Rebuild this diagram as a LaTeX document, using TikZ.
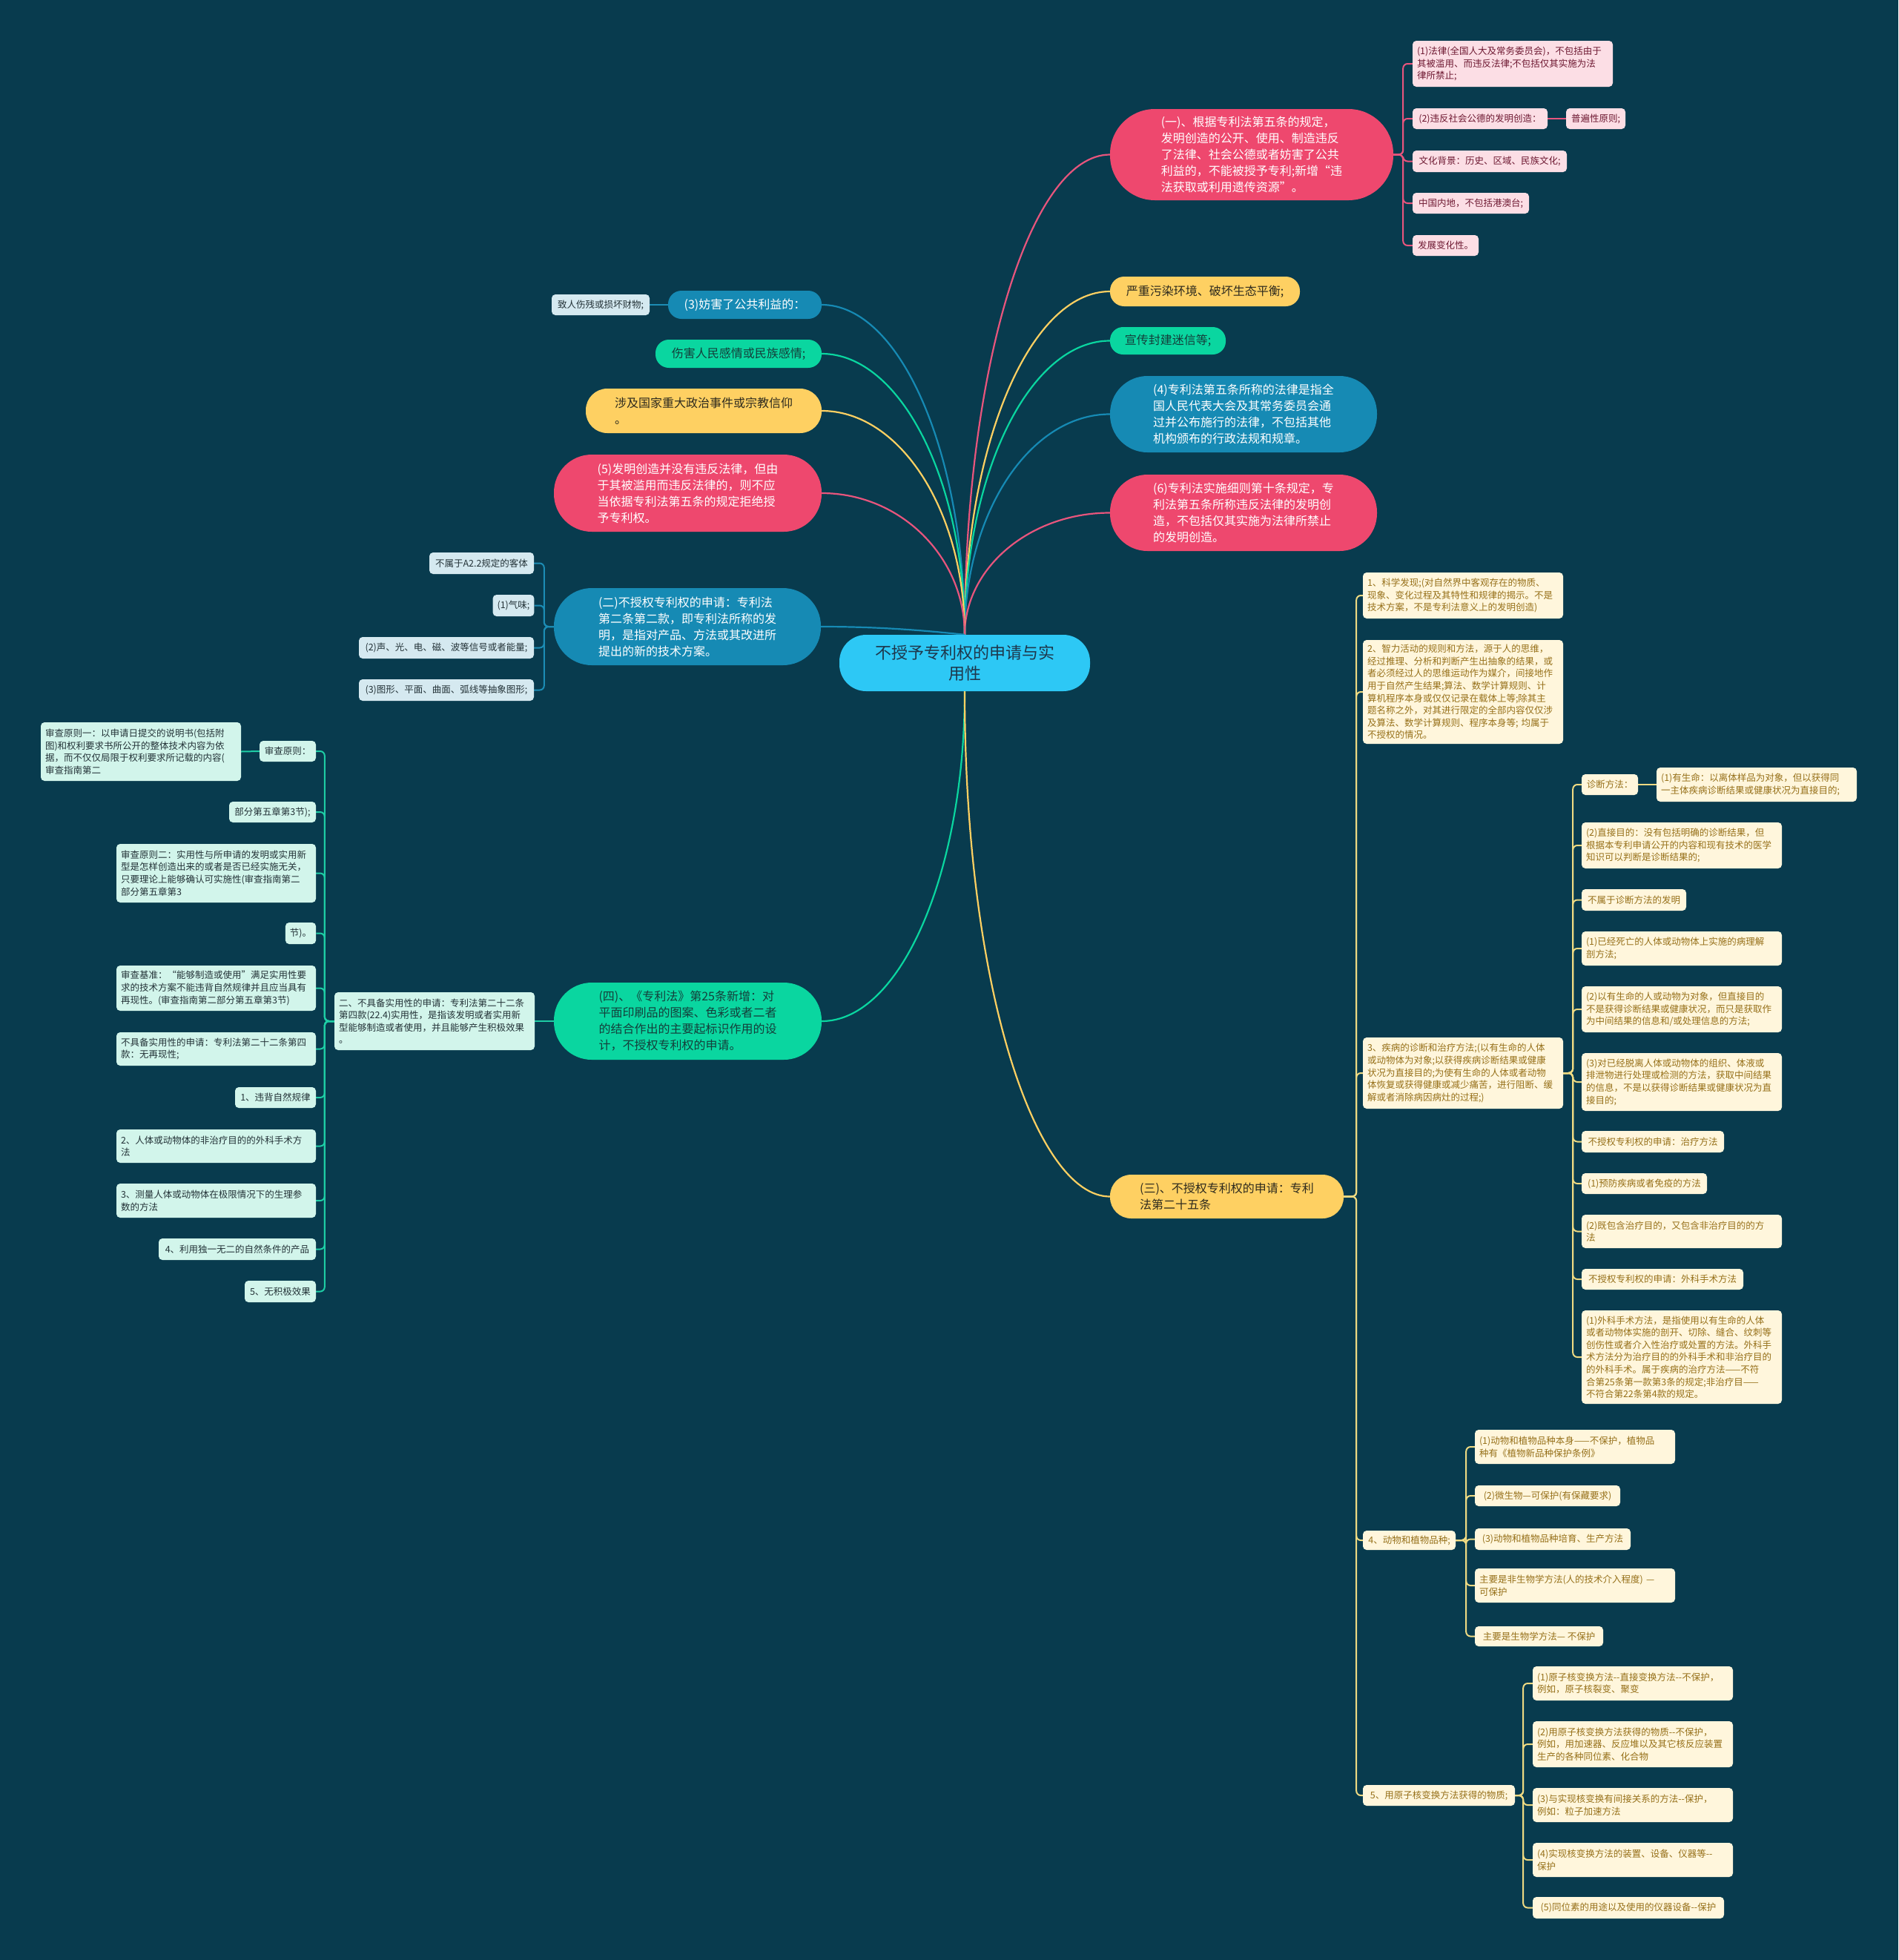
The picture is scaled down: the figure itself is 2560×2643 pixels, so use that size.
\documentclass[tikz,border=0pt]{standalone}
\usepackage{fontspec}
\setmainfont{Noto Sans CJK SC}
\definecolor{bgc}{RGB}{8,59,78}
\definecolor{pinkM}{RGB}{238,72,110}
\definecolor{yelM}{RGB}{254,208,98}
\definecolor{grnM}{RGB}{10,214,160}
\definecolor{blueM}{RGB}{22,138,180}
\definecolor{rootM}{RGB}{45,200,245}
\definecolor{rootT}{RGB}{30,55,75}
\definecolor{yelT}{RGB}{45,42,30}
\definecolor{grnT}{RGB}{20,62,58}
\definecolor{pinkL}{RGB}{252,222,229}
\definecolor{pinkT}{RGB}{110,25,50}
\definecolor{blueL}{RGB}{213,233,240}
\definecolor{mintL}{RGB}{210,245,235}
\definecolor{darkT}{RGB}{35,50,55}
\definecolor{creamL}{RGB}{255,246,220}
\definecolor{creamT}{RGB}{150,112,25}
\definecolor{pinkLn}{RGB}{232,85,125}
\definecolor{yelLn}{RGB}{238,218,130}
\definecolor{mintLn}{RGB}{30,205,165}
\definecolor{blueLn}{RGB}{28,140,180}
\pgfdeclarelayer{bg}
\pgfdeclarelayer{lines}
\pgfsetlayers{bg,lines,main}
\tikzset{
 sm/.style={font=\fontsize{12.5}{16.6}\selectfont, inner xsep=6pt, inner ysep=3pt, rounded corners=5pt, align=left},
 pinkc/.style={sm, fill=pinkL, text=pinkT},
 bluec/.style={sm, fill=blueL, text=darkT},
 mintc/.style={sm, fill=mintL, text=darkT},
 creamc/.style={sm, fill=creamL, text=creamT},
 maj/.style={font=\fontsize{16}{22}\selectfont, inner xsep=10pt, inner ysep=4pt, align=left},
 majpink/.style={maj, fill=pinkM, text=white},
 majblue/.style={maj, fill=blueM, text=white},
 majyel/.style={maj, fill=yelM, text=yelT},
 majgrn/.style={maj, fill=grnM, text=grnT},
 ln/.style={line width=2pt, rounded corners=6pt},
 lpink/.style={ln, draw=pinkLn},
 lyel/.style={ln, draw=yelLn},
 lmint/.style={ln, draw=mintLn},
 lblue/.style={ln, draw=blueLn},
 cv/.style={line width=2.2pt},
}
\newcommand\mknode[7]{%
 \pgfmathsetmacro\mkW{#4-#3}\pgfmathsetmacro\mkH{#6-#5}%
 \pgfmathsetmacro\mkX{(#3+#4)/2}\pgfmathsetmacro\mkY{(#5+#6)/2}%
 \node[#1,minimum width=\mkW pt,minimum height=\mkH pt] (#2) at (\mkX,\mkY) {#7};}
\newcommand\mkpar[7]{%
 \pgfmathsetmacro\mkW{#4-#3}\pgfmathsetmacro\mkH{#6-#5}%
 \pgfmathsetmacro\mkX{(#3+#4)/2}\pgfmathsetmacro\mkY{(#5+#6)/2}%
 \pgfmathsetmacro\mkT{#4-#3-12}%
 \node[#1,minimum width=\mkW pt,minimum height=\mkH pt,text width=\mkT pt] (#2) at (\mkX,\mkY) {#7};}
\newcommand\mkmaj[7]{%
 \pgfmathsetmacro\mkW{#4-#3}\pgfmathsetmacro\mkH{#6-#5}%
 \pgfmathsetmacro\mkX{(#3+#4)/2}\pgfmathsetmacro\mkY{(#5+#6)/2}%
 \pgfmathsetmacro\mkR{(#6-#5)/2-1}%
 \node[#1,minimum width=\mkW pt,minimum height=\mkH pt,rounded corners=\mkR pt] (#2) at (\mkX,\mkY) {#7};}
\begin{document}
\begin{tikzpicture}[x=1pt,y=-1pt]
\useasboundingbox (0,0) rectangle (2560,2643);
\begin{pgfonlayer}{bg}
\fill[bgc] (0,0) rectangle (2560,2643);
\end{pgfonlayer}

% root
\node[fill=rootM, text=rootT, font=\fontsize{22}{28}\selectfont, align=center, rounded corners=36pt, minimum width=338pt, minimum height=76pt] (root) at (1301,894) {不授予专利权的申请与实\\用性};

% right major
\mkmaj{majpink}{A1}{1497}{1879}{147}{270}{(一)、根据专利法第五条的规定，\\发明创造的公开、使用、制造违反\\了法律、社会公德或者妨害了公共\\利益的，不能被授予专利;新增“违\\法获取或利用遗传资源”。}
\mkmaj{majyel}{A2}{1497}{1753}{373}{413}{严重污染环境、破坏生态平衡;}
\mkmaj{majgrn}{A3}{1497}{1653}{441}{478}{宣传封建迷信等;}
\mkmaj{majblue}{A4}{1497}{1857}{507}{610}{(4)专利法第五条所称的法律是指全\\国人民代表大会及其常务委员会通\\过并公布施行的法律，不包括其他\\机构颁布的行政法规和规章。}
\mkmaj{majpink}{A5}{1497}{1857}{640}{743}{(6)专利法实施细则第十条规定，专\\利法第五条所称违反法律的发明创\\造，不包括仅其实施为法律所禁止\\的发明创造。}
\mkmaj{majyel}{A6}{1497}{1812}{1584}{1643}{(三)、不授权专利权的申请：专利\\法第二十五条}

% left major
\mkmaj{majblue}{B1}{901}{1108}{392}{430}{(3)妨害了公共利益的：}
\mkmaj{majgrn}{B2}{884}{1108}{458}{496}{伤害人民感情或民族感情;}
\mkmaj{majyel}{B3}{790}{1108}{524}{584}{涉及国家重大政治事件或宗教信仰\\。}
\mkmaj{majpink}{B4}{747}{1108}{613}{717}{(5)发明创造并没有违反法律，但由\\于其被滥用而违反法律的，则不应\\当依据专利法第五条的规定拒绝授\\予专利权。}
\mkmaj{majblue}{B5}{747}{1107}{793}{897}{(二)不授权专利权的申请：专利法\\第二条第二款，即专利法所称的发\\明，是指对产品、方法或其改进所\\提出的新的技术方案。}
\mkmaj{majgrn}{B6}{747}{1108}{1325}{1429}{(四)、《专利法》第25条新增：对\\平面印刷品的图案、色彩或者二者\\的结合作出的主要起标识作用的设\\计，不授权专利权的申请。}

% pink children
\mkpar{pinkc}{P1}{1905}{2175}{55}{117}{(1)法律(全国人大及常务委员会)，不包括由于\\其被滥用、而违反法律;不包括仅其实施为法\\律所禁止;}
\mknode{pinkc}{P2}{1905}{2087}{146}{174}{(2)违反社会公德的发明创造：}
\mknode{pinkc}{P2a}{2112}{2192}{146}{174}{普遍性原则;}
\mknode{pinkc}{P3}{1905}{2113}{203}{232}{文化背景：历史、区域、民族文化;}
\mknode{pinkc}{P4}{1905}{2062}{260}{288}{中国内地，不包括港澳台;}
\mknode{pinkc}{P5}{1905}{1994}{317}{345}{发展变化性。}

% blue children
\mknode{bluec}{K1}{744}{876}{397}{425}{致人伤残或损坏财物;}
\mknode{bluec}{C1}{579}{720}{745}{774}{不属于A2.2规定的客体}
\mknode{bluec}{C2}{665}{720}{802}{831}{(1)气味;}
\mknode{bluec}{C3}{484}{720}{859}{888}{(2)声、光、电、磁、波等信号或者能量;}
\mknode{bluec}{C4}{484}{720}{916}{945}{(3)图形、平面、曲面、弧线等抽象图形;}

% mint children
\mkpar{mintc}{M0}{451}{721}{1338}{1416}{二、不具备实用性的申请：专利法第二十二条\\第四款(22.4)实用性，是指该发明或者实用新\\型能够制造或者使用，并且能够产生积极效果\\。}
\mkpar{mintc}{M1}{55}{325}{974}{1053}{审查原则一：以申请日提交的说明书(包括附\\图)和权利要求书所公开的整体技术内容为依\\据，而不仅仅局限于权利要求所记载的内容(\\审查指南第二}
\mknode{mintc}{M2}{350}{426}{999}{1027}{审查原则：}
\mknode{mintc}{M3}{309}{426}{1081}{1109}{部分第五章第3节);}
\mkpar{mintc}{M4}{157}{426}{1138}{1217}{审查原则二：实用性与所申请的发明或实用新\\型是怎样创造出来的或者是否已经实施无关，\\只要理论上能够确认可实施性(审查指南第二\\部分第五章第3}
\mknode{mintc}{M5}{385}{426}{1244}{1273}{节)。}
\mkpar{mintc}{M6}{157}{426}{1302}{1363}{审查基准：“能够制造或使用”满足实用性要\\求的技术方案不能违背自然规律并且应当具有\\再现性。(审查指南第二部分第五章第3节)}
\mkpar{mintc}{M7}{157}{426}{1392}{1437}{不具备实用性的申请：专利法第二十二条第四\\款：无再现性;}
\mknode{mintc}{M8}{317}{426}{1466}{1494}{1、违背自然规律}
\mkpar{mintc}{M9}{157}{426}{1523}{1568}{2、人体或动物体的非治疗目的的外科手术方\\法}
\mkpar{mintc}{M10}{157}{426}{1596}{1642}{3、测量人体或动物体在极限情况下的生理参\\数的方法}
\mknode{mintc}{M11}{214}{426}{1670}{1699}{4、利用独一无二的自然条件的产品}
\mknode{mintc}{M12}{330}{426}{1727}{1756}{5、无积极效果}

% cream children
\mkpar{creamc}{Y1}{1838}{2108}{772}{834}{1、科学发现;(对自然界中客观存在的物质、\\现象、变化过程及其特性和规律的揭示。不是\\技术方案，不是专利法意义上的发明创造)}
\mkpar{creamc}{Y2}{1838}{2108}{863}{1003}{2、智力活动的规则和方法，源于人的思维，\\经过推理、分析和判断产生出抽象的结果，或\\者必须经过人的思维运动作为媒介，间接地作\\用于自然产生结果;算法、数学计算规则、计\\算机程序本身或仅仅记录在载体上等;除其主\\题名称之外，对其进行限定的全部内容仅仅涉\\及算法、数学计算规则、程序本身等; 均属于\\不授权的情况。}
\mkpar{creamc}{Y3}{1838}{2108}{1399}{1495}{3、疾病的诊断和治疗方法;(以有生命的人体\\或动物体为对象;以获得疾病诊断结果或健康\\状况为直接目的;为使有生命的人体或者动物\\体恢复或获得健康或减少痛苦，进行阻断、缓\\解或者消除病因病灶的过程;)}
\mknode{creamc}{Y4}{1838}{1963}{2064}{2090}{4、动物和植物品种;}
\mknode{creamc}{Y5}{1838}{2043}{2407}{2435}{5、用原子核变换方法获得的物质;}

\mknode{creamc}{D1}{2133}{2209}{1044}{1072}{诊断方法：}
\mkpar{creamc}{D1a}{2234}{2504}{1035}{1081}{(1)有生命：以离体样品为对象，但以获得同\\一主体疾病诊断结果或健康状况为直接目的;}
\mkpar{creamc}{D2}{2133}{2403}{1109}{1171}{(2)直接目的：没有包括明确的诊断结果，但\\根据本专利申请公开的内容和现有技术的医学\\知识可以判断是诊断结果的;}
\mknode{creamc}{D3}{2133}{2274}{1199}{1228}{不属于诊断方法的发明}
\mkpar{creamc}{D4}{2133}{2403}{1256}{1302}{(1)已经死亡的人体或动物体上实施的病理解\\剖方法;}
\mkpar{creamc}{D5}{2133}{2403}{1330}{1392}{(2)以有生命的人或动物为对象，但直接目的\\不是获得诊断结果或健康状况，而只是获取作\\为中间结果的信息和/或处理信息的方法;}
\mkpar{creamc}{D6}{2133}{2403}{1420}{1498}{(3)对已经脱离人体或动物体的组织、体液或\\排泄物进行处理或检测的方法，获取中间结果\\的信息，不是以获得诊断结果或健康状况为直\\接目的;}
\mknode{creamc}{D7}{2133}{2325}{1525}{1554}{不授权专利权的申请：治疗方法}
\mknode{creamc}{D8}{2133}{2302}{1582}{1610}{(1)预防疾病或者免疫的方法}
\mkpar{creamc}{D9}{2133}{2403}{1638}{1683}{(2)既包含治疗目的，又包含非治疗目的的方\\法}
\mknode{creamc}{D10}{2133}{2351}{1711}{1739}{不授权专利权的申请：外科手术方法}
\mkpar{creamc}{D11}{2133}{2403}{1767}{1893}{(1)外科手术方法，是指使用以有生命的人体\\或者动物体实施的剖开、切除、缝合、纹刺等\\创伤性或者介入性治疗或处置的方法。外科手\\术方法分为治疗目的的外科手术和非治疗目的\\的外科手术。属于疾病的治疗方法——不符\\合第25条第一款第3条的规定;非治疗目——\\不符合第22条第4款的规定。}

\mkpar{creamc}{E1}{1989}{2259}{1928}{1974}{(1)动物和植物品种本身——不保护，植物品\\种有《植物新品种保护条例》}
\mknode{creamc}{E2}{1989}{2185}{2003}{2031}{(2)微生物—可保护(有保藏要求)}
\mknode{creamc}{E3}{1989}{2199}{2061}{2090}{(3)动物和植物品种培育、生产方法}
\mkpar{creamc}{E4}{1989}{2259}{2115}{2161}{主要是非生物学方法(人的技术介入程度) —\\可保护}
\mknode{creamc}{E5}{1989}{2162}{2193}{2220}{主要是生物学方法— 不保护}

\mkpar{creamc}{F1}{2067}{2337}{2247}{2293}{(1)原子核变换方法-{}-直接变换方法-{}-不保护，\\例如，原子核裂变、聚变}
\mkpar{creamc}{F2}{2067}{2337}{2321}{2383}{(2)用原子核变换方法获得的物质-{}-不保护，\\例如，用加速器、反应堆以及其它核反应装置\\生产的各种同位素、化合物}
\mkpar{creamc}{F3}{2067}{2337}{2411}{2457}{(3)与实现核变换有间接关系的方法-{}-保护，\\例如：粒子加速方法}
\mkpar{creamc}{F4}{2067}{2337}{2485}{2531}{(4)实现核变换方法的装置、设备、仪器等-{}-\\保护}
\mknode{creamc}{F5}{2067}{2325}{2558}{2587}{(5)同位素的用途以及使用的仪器设备-{}-保护}

\begin{pgfonlayer}{lines}
% root curves
\draw[cv, pinkLn] (root.north) .. controls +(0,-356) and +(-108,0) .. (A1.west);
\draw[cv, yelM] (root.north) .. controls +(0,-255) and +(-108,0) .. (A2.west);
\draw[cv, grnM] (root.north) .. controls +(0,-218) and +(-108,0) .. (A3.west);
\draw[cv, blueM] (root.north) .. controls +(0,-164) and +(-108,0) .. (A4.west);
\draw[cv, pinkLn] (root.north) .. controls +(0,-90) and +(-108,0) .. (A5.west);
\draw[cv, blueM] (root.north) .. controls +(0,-245) and +(106,0) .. (B1.east);
\draw[cv, grnM] (root.north) .. controls +(0,-208) and +(106,0) .. (B2.east);
\draw[cv, yelM] (root.north) .. controls +(0,-166) and +(106,0) .. (B3.east);
\draw[cv, pinkLn] (root.north) .. controls +(0,-105) and +(106,0) .. (B4.east);
\draw[cv, blueM] (root.north) .. controls +(-40,-4) and +(90,0) .. (B5.east);
\draw[cv, grnM] (root.south) .. controls +(0,245) and +(106,0) .. (B6.east);
\draw[cv, yelM] (root.south) .. controls +(0,400) and +(-100,0) .. (A6.west);
% pink brackets
\foreach \c in {P1,P2,P3,P4,P5} \draw[lpink] (A1.east) -- ++(13,0) |- (\c.west);
\draw[lpink] (P2.east) -- (P2a.west);
% blue
\draw[lblue] (B1.west) -- (K1.east);
\foreach \c in {C1,C2,C3,C4} \draw[lblue] (B5.west) -- ++(-13,0) |- (\c.east);
% mint
\draw[lmint] (B6.west) -- (M0.east);
\foreach \c in {M2,M3,M4,M5,M6,M7,M8,M9,M10,M11,M12} \draw[lmint] (M0.west) -- ++(-13,0) |- (\c.east);
\draw[lmint] (M2.west) -- (M1.east);
% cream
\foreach \c in {Y1,Y2,Y3,Y4,Y5} \draw[lyel] (A6.east) -- ++(17,0) |- (\c.west);
\foreach \c in {D1,D2,D3,D4,D5,D6,D7,D8,D9,D10,D11} \draw[lyel] (Y3.east) -- ++(13,0) |- (\c.west);
\draw[lyel] (D1.east) -- (D1a.west);
\foreach \c in {E1,E2,E3,E4,E5} \draw[lyel] (Y4.east) -- ++(14,0) |- (\c.west);
\foreach \c in {F1,F2,F3,F4,F5} \draw[lyel] (Y5.east) -- ++(11,0) |- (\c.west);
\end{pgfonlayer}
\end{tikzpicture}
\end{document}
